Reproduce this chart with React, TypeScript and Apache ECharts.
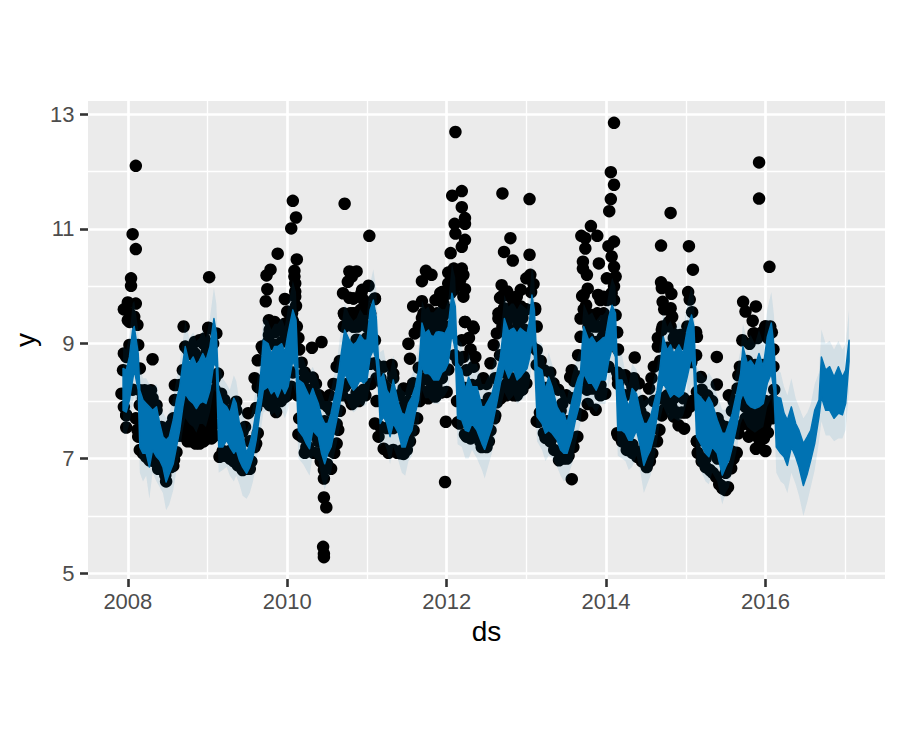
import React, { useEffect, useRef } from "react";
import * as echarts from "echarts";

const majorYears = [2008, 2010, 2012, 2014, 2016];
const minorYears = [2009, 2011, 2013, 2015, 2017];
const majorValues = [5, 7, 9, 11, 13];
const minorValues = [6, 8, 10, 12];

// [year, weekly-top, weekly-bottom, interval-upper, interval-lower]
const band2008 = [
[2007.94,8.57,7.84,8.95,7.45],[2007.98,8.54,7.81,8.9,7.42],[2008.02,8.77,8.02,9.15,7.6],[2008.06,9.24,8.37,9.7,7.95],[2008.08,9.30,8.54,9.75,8.1],[2008.13,8.83,8.19,9.25,7.8],[2008.15,8.19,7.20,8.6,6.75],[2008.19,8.02,7.09,8.4,6.6],[2008.23,7.96,7.09,8.4,6.7],[2008.27,7.90,6.85,8.3,6.3],[2008.31,7.84,7.15,8.25,6.75],[2008.36,7.90,7.03,8.3,6.6],[2008.40,7.61,6.97,8.0,6.5],[2008.44,7.38,6.85,7.8,6.4],[2008.48,7.32,6.59,7.7,6.1],[2008.52,7.38,6.74,7.8,6.2],[2008.57,7.67,6.91,8.05,6.45],[2008.61,8.02,7.20,8.4,6.8],[2008.65,8.25,7.49,8.65,7.1],[2008.69,8.66,7.90,9.05,7.5],[2008.72,8.95,8.13,9.4,7.7],[2008.77,8.66,8.02,9.1,7.6],[2008.82,8.77,7.96,9.2,7.55],[2008.86,8.63,7.87,9.05,7.45],[2008.90,8.71,7.96,9.1,7.6],[2008.94,8.83,7.99,9.25,7.6],[2008.98,8.71,7.96,9.1,7.55],
];
const band2009 = [
[2009.03,8.95,8.19,9.45,7.8],[2009.08,9.44,8.66,9.98,8.2],[2009.11,9.18,8.60,9.7,8.15],[2009.14,8.19,7.20,8.7,6.75],[2009.19,7.96,7.20,8.4,6.8],[2009.24,7.90,7.32,8.3,6.85],[2009.28,7.79,7.20,8.2,6.7],[2009.33,8.05,7.09,8.45,6.6],[2009.36,7.96,7.15,8.35,6.7],[2009.40,7.61,6.97,8.0,6.55],[2009.44,7.44,6.85,7.85,6.35],[2009.49,7.09,6.74,7.5,6.3],[2009.53,7.26,6.85,7.65,6.4],[2009.57,7.49,7.03,7.9,6.6],[2009.61,7.84,7.32,8.25,6.9],[2009.65,8.19,7.73,8.6,7.3],[2009.70,9.06,8.19,9.45,7.8],[2009.76,9.00,8.25,9.4,7.85],[2009.80,8.83,8.13,9.25,7.75],[2009.84,8.95,8.19,9.35,7.8],[2009.88,8.95,8.07,9.35,7.7],[2009.93,9.00,8.25,9.45,7.85],[2009.97,8.86,8.13,9.3,7.7],
];
const band2010 = [
[2010.01,9.18,8.25,9.65,7.85],[2010.07,9.59,8.71,10.1,8.3],[2010.11,9.41,8.54,9.9,8.1],[2010.14,8.37,7.49,8.8,7.0],[2010.20,8.31,7.38,8.75,6.9],[2010.24,8.19,7.26,8.6,6.8],[2010.28,8.07,7.17,8.5,6.7],[2010.32,8.22,7.49,8.6,7.05],[2010.35,8.1,7.44,8.5,7.0],[2010.39,7.96,7.38,8.35,6.95],[2010.43,7.73,7.09,8.15,6.65],[2010.47,7.61,6.91,8.0,6.45],[2010.51,7.61,7.09,8.0,6.65],[2010.55,7.79,7.20,8.2,6.75],[2010.58,8.0,7.4,8.4,7.0],[2010.62,8.25,7.67,8.65,7.25],[2010.66,8.66,7.96,9.1,7.55],[2010.69,8.95,8.2,9.4,7.8],[2010.72,9.24,8.48,9.7,8.05],[2010.75,9.15,8.4,9.6,8.0],[2010.78,9.06,8.31,9.5,7.9],[2010.83,8.98,8.19,9.4,7.8],[2010.87,9.03,8.25,9.45,7.85],[2010.915,9.15,8.37,9.6,7.95],[2010.96,9.06,8.31,9.5,7.9],
];
const band2011 = [
[2011.00,9.06,8.37,9.5,7.95],[2011.04,9.59,8.77,10.05,8.3],[2011.08,9.76,8.89,10.3,8.45],[2011.116,9.47,8.71,9.95,8.3],[2011.145,8.71,8.25,9.2,7.8],[2011.166,8.37,7.61,8.85,7.2],[2011.208,8.48,7.73,8.9,7.3],[2011.25,8.19,7.61,8.6,7.15],[2011.29,8.10,7.38,8.5,6.9],[2011.33,8.37,7.61,8.8,7.2],[2011.396,7.96,7.44,8.35,6.95],[2011.438,7.79,7.20,8.2,6.75],[2011.48,7.76,7.20,8.15,6.7],[2011.52,7.96,7.38,8.35,6.95],[2011.564,8.07,7.49,8.45,7.05],[2011.606,8.25,7.79,8.65,7.35],[2011.648,8.54,8.02,8.95,7.6],[2011.67,8.95,8.3,9.35,7.9],[2011.69,9.36,8.60,9.75,8.2],[2011.73,9.18,8.48,9.6,8.05],[2011.773,9.24,8.48,9.65,8.05],[2011.80,9.15,8.45,9.55,8.0],[2011.836,9.12,8.37,9.55,7.95],[2011.87,9.2,8.37,9.6,7.95],[2011.90,9.21,8.37,9.65,7.95],[2011.94,9.2,8.5,9.6,8.05],[2011.98,9.18,8.54,9.6,8.1],
];
const band2012 = [
[2012.02,9.30,8.66,9.75,8.2],[2012.066,9.88,9.18,10.4,8.7],[2012.108,9.65,8.89,10.15,8.45],[2012.137,8.66,7.70,9.1,7.25],[2012.19,8.54,7.67,9.0,7.2],[2012.234,8.19,7.49,8.6,7.0],[2012.276,8.42,7.47,8.85,7.0],[2012.318,8.25,7.61,8.65,7.15],[2012.38,8.25,7.49,8.65,7.0],[2012.443,7.90,7.26,8.3,6.8],[2012.477,7.90,7.16,8.3,6.65],[2012.527,8.02,7.38,8.45,6.9],[2012.569,8.13,7.55,8.55,7.1],[2012.61,8.37,7.84,8.8,7.4],[2012.64,8.55,8.05,8.95,7.6],[2012.674,8.77,8.31,9.2,7.85],[2012.70,9.1,8.45,9.5,8.0],[2012.724,9.44,8.60,9.85,8.15],[2012.778,9.21,8.40,9.65,8.0],[2012.81,9.25,8.5,9.7,8.05],[2012.841,9.27,8.54,9.7,8.1],[2012.883,9.18,8.37,9.6,7.95],[2012.925,9.27,8.42,9.7,8.0],[2012.967,9.22,8.5,9.65,8.05],
];
const band2013 = [
[2013.009,9.18,8.57,9.6,8.15],[2013.04,9.4,8.75,9.85,8.3],[2013.07,9.85,9.06,10.4,8.65],[2013.10,9.59,8.83,10.1,8.4],[2013.134,8.60,7.73,9.05,7.3],[2013.197,8.54,7.61,9.0,7.15],[2013.239,8.19,7.44,8.6,6.95],[2013.28,8.42,7.49,8.85,7.05],[2013.323,8.25,7.44,8.65,7.0],[2013.386,7.90,7.32,8.3,6.85],[2013.43,7.79,7.15,8.2,6.7],[2013.47,7.79,7.09,8.2,6.6],[2013.511,7.61,7.09,8.05,6.65],[2013.574,8.02,7.38,8.45,6.9],[2013.616,8.25,7.67,8.65,7.25],[2013.65,8.4,7.85,8.8,7.45],[2013.679,8.48,8.02,8.9,7.6],[2013.70,8.95,8.3,9.35,7.9],[2013.72,9.30,8.48,9.7,8.05],[2013.783,9.06,8.31,9.5,7.9],[2013.825,9.12,8.31,9.55,7.9],[2013.876,9.00,8.19,9.4,7.8],[2013.93,9.06,8.37,9.5,7.95],[2013.96,9.1,8.37,9.5,7.95],[2013.993,9.12,8.37,9.55,7.95],
];
const band2014 = [
[2014.035,9.47,8.71,9.9,8.3],[2014.076,9.67,8.92,10.15,8.45],[2014.118,9.53,8.77,10.0,8.35],[2014.147,8.37,7.49,8.85,7.05],[2014.2,8.37,7.49,8.8,7.0],[2014.243,8.07,7.44,8.5,6.95],[2014.285,7.90,7.32,8.3,6.8],[2014.327,8.22,7.32,8.65,6.85],[2014.382,8.13,7.49,8.55,7.05],[2014.432,7.79,7.20,8.2,6.75],[2014.474,7.61,6.88,8.0,6.4],[2014.516,7.61,7.03,8.05,6.55],[2014.558,7.73,7.15,8.15,6.7],[2014.6,7.96,7.38,8.4,6.95],[2014.641,8.19,7.73,8.6,7.3],[2014.683,8.66,8.13,9.1,7.7],[2014.717,9.12,8.31,9.55,7.9],[2014.767,8.89,8.19,9.3,7.75],[2014.809,8.98,8.07,9.4,7.65],[2014.851,8.83,8.13,9.25,7.7],[2014.914,8.98,8.07,9.4,7.65],[2014.968,8.83,8.13,9.25,7.75],
];
const band2015 = [
[2015.018,9.24,8.42,9.7,8.0],[2015.073,9.50,8.77,10.0,8.3],[2015.102,9.30,8.54,9.8,8.1],[2015.136,8.13,7.38,8.6,6.95],[2015.186,8.07,7.26,8.5,6.8],[2015.249,7.96,7.09,8.4,6.6],[2015.29,8.07,7.03,8.5,6.55],[2015.332,7.96,7.20,8.4,6.75],[2015.395,7.67,7.09,8.1,6.6],[2015.458,7.44,6.71,7.85,6.2],[2015.5,7.44,6.85,7.85,6.4],[2015.542,7.61,6.97,8.0,6.5],[2015.584,7.79,7.20,8.2,6.8],[2015.647,8.19,7.61,8.6,7.2],[2015.688,8.48,8.02,8.9,7.6],[2015.718,8.95,8.13,9.35,7.7],[2015.772,8.66,7.96,9.05,7.55],[2015.814,8.71,7.90,9.15,7.5],[2015.868,8.60,7.87,9.0,7.45],[2015.919,8.83,7.90,9.25,7.5],[2015.973,8.60,7.96,9.0,7.55],
];
const band2016 = [
[2016.023,9.12,8.31,9.6,7.9],[2016.074,9.36,8.48,9.9,8.05],[2016.107,8.95,8.19,9.5,7.75],[2016.136,8.07,7.20,8.55,6.75],[2016.191,8.05,7.09,8.5,6.6],[2016.233,7.79,7.03,8.25,6.55],[2016.275,7.67,6.88,8.1,6.4],[2016.325,7.90,7.20,8.4,6.75],[2016.379,7.61,7.03,8.05,6.55],[2016.421,7.49,6.85,7.9,6.35],[2016.476,7.26,6.53,7.7,6.0],[2016.526,7.38,6.74,7.8,6.25],[2016.568,7.49,6.97,7.95,6.5],[2016.618,7.84,7.26,8.3,6.8],[2016.672,8.02,7.73,8.5,7.3],[2016.702,8.77,8.07,9.25,7.65],[2016.756,8.54,7.84,9.0,7.4],[2016.806,8.60,7.84,9.05,7.4],[2016.861,8.42,7.70,8.9,7.3],[2016.915,8.60,7.79,9.05,7.35],[2016.966,8.42,7.76,8.9,7.35],[2017.007,8.54,7.96,9.0,7.5],[2017.049,9.06,8.69,9.6,8.2],
];

const pointsOutliers = [
[2008.10,12.10],[2008.06,10.91],[2008.10,10.65],[2008.04,10.14],[2008.04,10.01],[2008.0,9.72],[2008.10,9.70],[2007.95,9.60],[2008.02,9.53],[2008.0,9.41],[2008.08,9.47],[2008.12,9.33],[2008.02,9.38],[2008.70,9.30],[2009.02,10.16],[2009.01,9.28],[2009.11,9.18],
[2010.07,11.49],[2010.11,11.20],[2010.05,11.01],[2009.88,10.57],[2010.12,10.47],[2009.79,10.29],[2009.74,10.19],[2010.09,10.27],[2010.09,10.17],[2010.10,10.05],[2010.10,9.91],[2009.75,9.95],[2009.73,9.74],[2009.97,9.78],[2010.10,9.82],[2010.11,9.66],[2010.0,9.56],[2009.77,9.41],[2009.84,9.38],[2010.06,9.53],[2010.06,9.38],[2009.97,9.35],[2009.93,9.30],[2009.78,9.24],
[2010.72,11.44],[2010.78,10.26],[2010.76,10.08],[2010.70,9.88],[2010.78,9.80],[2010.71,9.53],[2010.79,9.53],[2010.83,9.53],[2010.71,9.30],
[2011.03,10.88],[2010.87,10.26],[2010.81,10.17],[2011.02,10.01],[2010.94,9.94],[2011.10,9.78],[2010.83,9.79],[2010.96,9.76],[2010.98,9.65],[2010.87,9.53],[2011.04,9.53],
[2011.74,10.27],[2011.81,10.20],[2011.69,10.09],[2011.58,9.65],[2011.69,9.74],[2011.77,9.59],[2011.69,9.3],[2011.75,9.41],[2011.92,9.88],[2011.86,9.76],[2011.96,9.7],[2011.88,9.53],[2011.94,9.47],[2011.84,9.3],[2012.0,9.3],
[2012.11,12.69],[2012.19,11.66],[2012.07,11.58],[2012.19,11.38],[2012.23,11.19],[2012.23,11.09],[2012.10,11.09],[2012.11,10.92],[2012.23,10.81],[2012.19,10.69],[2012.05,10.58],[2012.09,10.31],[2012.19,10.31],[2012.02,10.24],[2012.21,10.2],[2012.17,10.11],[2012.09,10.17],[2012.02,10.05],[2012.23,9.95],[2012.13,10.05],[2012.05,9.88],[2012.21,9.82],[2011.96,9.82],[2011.94,9.9],[2012.09,9.94],[2012.23,9.38],[2012.33,9.3],
[2012.70,11.62],[2013.04,11.52],[2012.80,10.84],[2012.72,10.60],[2012.83,10.45],[2013.04,10.55],[2013.05,10.20],[2013.0,10.14],[2013.09,10.04],[2012.69,10.02],[2012.76,9.91],[2012.93,9.94],[2012.88,9.82],[2012.69,9.82],[2012.80,9.82],[2012.72,9.62],[2012.84,9.71],[2012.97,9.59],[2012.93,9.65],[2012.80,9.53],[2012.65,9.44],[2013.11,9.62],[2012.88,9.47],[2012.76,9.41],
[2013.81,11.05],[2013.69,10.88],[2013.74,10.84],[2013.89,10.88],[2013.74,10.66],[2013.91,10.40],[2013.71,10.43],[2013.71,10.31],[2013.76,10.20],[2013.77,9.96],[2013.70,9.83],[2013.75,9.67],[2013.97,9.82],[2014.01,10.14],[2013.93,9.76],[2014.10,9.76],
[2014.10,12.85],[2014.06,11.99],[2014.10,11.77],[2014.06,11.52],[2014.04,11.31],[2014.10,10.78],[2014.03,10.70],[2014.07,10.52],[2014.10,10.34],[2014.12,10.17],[2014.10,10.0],[2014.07,9.88],[2014.01,9.76],[2013.89,9.53],[2013.80,9.41],[2013.97,9.53],[2013.85,9.3],
[2014.81,11.28],[2014.69,10.71],[2015.04,10.70],[2015.09,10.29],[2014.69,10.07],[2014.77,9.98],[2014.82,9.87],[2014.70,9.97],[2015.03,9.90],[2015.05,9.77],[2014.71,9.73],[2014.81,9.62],[2014.73,9.60],[2014.83,9.47],[2014.79,9.38],[2014.70,9.24],[2014.81,9.3],
[2015.92,12.16],[2015.92,11.53],[2016.05,10.34],[2015.72,9.73],[2015.88,9.65],[2015.75,9.56],[2015.84,9.40],[2016.0,9.30],[2016.06,9.30],[2015.85,9.18],
[2011.99,7.64],[2011.98,6.59],[2013.57,6.64],
[2008.31,8.73],[2007.98,7.54],[2010.43,9.03],[2010.31,8.93],[2010.32,8.41],[2010.46,6.65],[2010.46,6.32],[2010.49,6.15],[2010.45,5.46],[2010.46,5.28],[2010.46,5.34],
[2014.36,8.76],[2015.39,8.77],[2015.39,8.29],[2015.54,8.10],
];

const pointsHull2008 = [
[2007.95,8.83],[2007.94,8.54],[2007.92,8.13],[2007.95,7.90],[2007.98,7.76],[2008.02,8.98],[2007.98,8.77],[2008.13,8.98],[2008.15,8.57],[2008.15,8.19],[2008.15,7.93],[2008.13,7.38],[2008.19,7.09],[2008.27,6.97],[2008.38,6.82],[2008.47,6.71],[2008.54,6.85],[2008.61,7.11],[2008.29,8.19],[2008.31,8.05],[2008.21,8.19],[2008.36,7.84],[2008.42,7.55],[2008.48,7.5],[2008.54,7.58],[2008.59,8.28],[2008.59,8.02],[2008.69,8.54],[2008.84,8.83],[2008.84,9.03],[2008.90,9.06],[2008.96,9.09],[2009.01,9.27],[2008.99,8.86],[2009.07,9.0],[2009.13,8.48],[2008.23,7.15],[2008.33,6.95],[2008.43,6.85],[2008.58,6.98],[2008.63,7.4],[2008.1,7.7],[2008.12,7.5],[2008.75,8.9],[2008.95,9.0],
];
const pointsMass2009 = [
[2008.69,7.4],[2008.69,7.6],[2008.69,7.8],[2008.75,7.3],[2008.75,7.5],[2008.75,7.7],[2008.75,7.9],[2008.8,7.3],[2008.8,7.5],[2008.8,7.7],[2008.8,7.9],[2008.85,7.26],[2008.85,7.45],[2008.85,7.65],[2008.85,7.85],[2008.9,7.26],[2008.9,7.45],[2008.9,7.65],[2008.9,7.85],[2008.95,7.3],[2008.95,7.5],[2008.95,7.7],[2008.95,7.9],[2009.0,7.35],[2009.0,7.55],[2009.0,7.75],[2009.0,7.95],[2009.05,7.35],[2009.05,7.55],[2009.05,7.75],[2009.05,7.95],[2009.05,8.15],[2009.09,7.4],[2009.09,7.6],[2009.09,7.8],[2009.09,8.0],[2009.09,8.2],[2009.09,8.4],
[2009.17,8.13],[2009.21,8.02],[2009.34,7.94],[2009.36,7.84],[2009.51,7.79],[2009.47,7.55],[2009.59,8.40],[2009.63,8.71],[2009.63,8.25],[2009.68,8.95],[2009.15,7.03],[2009.28,7.0],[2009.38,6.88],[2009.50,6.82],[2009.59,7.2],[2009.63,7.44],[2009.21,7.05],[2009.33,6.95],[2009.44,6.82],[2009.55,6.95],
[2009.86,7.81],[2009.78,7.93],[2009.97,8.07],[2010.05,8.25],[2009.70,8.9],[2009.76,8.0],[2009.72,8.2],[2009.82,7.95],[2009.92,8.0],[2010.0,8.1],[2009.77,9.15],[2009.84,9.2],[2009.97,9.2],[2010.0,9.2],[2010.07,9.4],[2010.12,9.3],[2010.14,9.1],[2010.15,8.9],[2009.8,9.3],[2009.9,9.25],[2010.03,9.4],[2009.72,8.0],
];
const pointsHull2010 = [
[2010.18,8.67],[2010.45,7.96],[2010.29,8.2],[2010.18,7.38],[2010.26,7.2],[2010.39,7.09],[2010.46,6.8],[2010.55,6.82],[2010.62,7.26],[2010.66,7.83],[2010.53,8.1],[2010.51,7.9],[2010.62,8.6],[2010.58,8.3],[2010.72,9.3],[2010.81,9.4],[2010.72,9.5],[2010.83,9.3],[2010.72,8.25],[2010.81,7.95],[2010.15,7.7],[2010.22,7.1],[2010.33,7.1],[2010.42,6.95],[2010.5,6.9],[2010.59,7.1],[2010.64,7.5],[2010.13,8.1],[2010.22,8.5],[2010.36,8.3],[2010.4,8.1],
[2010.83,9.79],[2010.93,9.88],[2011.10,9.79],[2010.92,9.59],[2010.83,9.53],[2010.83,9.3],[2010.79,8.02],[2010.83,8.02],[2010.98,8.1],[2011.10,9.06],[2011.10,8.66],[2011.15,8.6],[2010.9,8.0],[2011.05,8.3],[2010.88,9.3],[2010.94,9.4],[2011.0,9.3],[2010.9,9.5],
];
const pointsHull2011 = [
[2011.21,8.6],[2011.31,8.63],[2011.33,8.48],[2011.46,8.22],[2011.52,8.19],[2011.58,8.31],[2011.54,8.74],[2011.52,9.0],[2011.69,9.45],[2011.71,9.53],[2011.6,9.18],[2011.65,9.3],[2011.12,8.0],
[2011.10,7.61],[2011.145,7.38],[2011.21,7.17],[2011.33,7.15],[2011.42,7.09],[2011.50,7.15],[2011.585,7.49],[2011.63,7.7],[2011.48,7.96],[2011.77,8.05],[2011.86,8.08],[2012.0,8.16],[2011.73,8.4],[2011.27,7.1],[2011.38,7.1],[2011.46,7.08],[2011.54,7.3],[2011.66,8.0],[2011.7,8.15],[2011.8,8.2],[2011.93,8.15],[2011.2,8.3],[2011.4,8.1],[2011.8,9.4],[2011.9,9.4],[2011.96,9.5],[2012.0,9.6],[2011.85,9.5],[2011.75,8.15],[2011.85,8.15],
];
const pointsHull2012 = [
[2012.23,9.38],[2012.34,9.27],[2012.19,9.06],[2012.36,8.77],[2012.34,8.6],[2012.21,8.77],[2012.25,8.54],[2012.46,8.40],[2012.63,9.18],[2012.59,8.98],[2012.55,8.66],[2012.65,9.53],[2012.67,9.8],[2012.3,8.9],[2012.28,9.1],[2012.42,8.3],[2012.5,8.3],
[2012.16,7.61],[2012.25,7.38],[2012.38,7.38],[2012.46,7.26],[2012.55,7.49],[2012.63,7.98],[2012.72,8.25],[2012.84,8.1],[2012.88,8.1],[2013.0,8.31],[2012.88,8.4],[2012.76,8.31],[2012.3,7.35],[2012.42,7.3],[2012.5,7.2],[2012.6,7.7],[2012.68,8.05],[2012.8,8.15],[2012.95,8.2],[2012.13,8.0],
[2012.7,9.3],[2012.78,9.5],[2012.9,9.35],[2013.0,9.6],[2013.06,9.9],[2013.11,9.59],[2013.13,8.89],[2013.13,9.3],[2012.85,9.5],[2012.95,9.45],[2012.75,9.3],[2012.9,9.6],[2012.75,8.1],[2012.9,8.15],
];
const pointsHull2013 = [
[2013.22,8.54],[2013.34,8.31],[2013.45,7.95],[2013.57,8.54],[2013.55,8.42],[2013.68,9.12],[2013.68,9.44],[2013.72,9.85],[2013.9,9.85],[2013.3,8.5],[2013.4,8.2],[2013.5,8.1],[2013.6,8.35],[2013.65,8.8],[2013.18,8.7],
[2013.15,7.64],[2013.22,7.44],[2013.3,7.3],[2013.41,6.97],[2013.53,7.05],[2013.64,7.38],[2013.7,7.75],[2013.87,7.85],[2013.99,8.13],[2013.76,8.2],[2013.8,8.35],[2013.93,8.1],[2013.35,7.15],[2013.46,7.0],[2013.59,7.2],[2013.77,7.95],[2013.17,7.8],
[2013.72,9.6],[2013.82,9.5],[2013.9,9.3],[2014.0,9.4],[2014.12,9.5],[2014.14,9.2],[2014.15,8.9],[2014.14,8.5],[2013.78,9.3],[2013.85,9.45],[2013.95,9.3],
];
const pointsHull2014 = [
[2014.24,8.45],[2014.35,8.40],[2014.41,8.31],[2014.54,8.22],[2014.60,8.60],[2014.43,7.95],[2014.49,7.72],[2014.65,8.95],[2014.65,9.1],[2014.19,8.45],[2014.15,8.3],[2014.3,8.35],[2014.46,8.0],[2014.57,8.4],
[2014.14,7.44],[2014.26,7.15],[2014.39,7.03],[2014.51,6.85],[2014.58,7.09],[2014.64,7.3],[2014.70,7.75],[2014.77,8.0],[2014.89,7.8],[2014.85,7.73],[2014.91,7.58],[2014.98,7.52],[2015.0,7.8],[2015.05,7.9],[2014.2,7.3],[2014.33,7.1],[2014.45,6.95],[2014.55,6.95],[2014.67,7.5],[2014.73,7.85],[2014.82,7.9],[2014.95,7.8],[2015.08,8.0],
[2014.71,9.3],[2014.85,9.1],[2014.87,9.15],[2014.93,9.15],[2014.98,9.0],[2015.02,9.3],[2015.08,9.55],[2015.13,9.2],[2015.14,9.12],[2015.13,8.8],
];
const pointsHull2015 = [
[2015.19,8.42],[2015.31,8.0],[2015.39,7.67],[2015.48,7.47],[2015.2,8.2],[2015.27,8.1],[2015.43,7.6],[2015.5,7.55],[2015.6,8.0],[2015.66,8.45],[2015.68,8.6],
[2015.15,7.1],[2015.2,6.95],[2015.3,6.8],[2015.38,6.68],[2015.42,6.55],[2015.46,6.48],[2015.5,6.45],[2015.44,6.53],[2015.53,6.5],[2015.57,6.83],[2015.64,7.1],[2015.66,7.44],[2015.72,7.6],[2015.25,6.85],[2015.34,6.75],[2015.6,7.0],[2015.14,7.3],
[2015.71,9.06],[2015.86,9.18],[2016.0,9.30],[2015.8,9.0],[2015.9,9.1],[2015.96,9.2],[2016.03,9.1],[2016.08,9.2],[2016.1,8.9],[2016.1,8.6],[2016.11,8.2],[2016.1,8.0],
];
const pointsMass2016 = [
[2015.88,7.17],[2016.0,7.13],[2015.79,7.38],[2015.98,7.35],[2016.0,7.6],[2016.06,7.81],[2015.75,7.7],[2015.75,7.9],[2015.82,7.55],[2015.82,7.75],[2015.82,7.9],[2015.88,7.4],[2015.88,7.6],[2015.88,7.8],[2015.93,7.3],[2015.93,7.5],[2015.93,7.7],[2015.93,7.9],[2015.98,7.8],[2016.03,7.45],[2016.03,7.7],[2016.03,7.95],[2016.08,7.7],[2016.08,8.0],[2015.78,8.1],[2015.86,8.0],[2016.0,8.0],
];
const pointsLowerRim = [
[2007.98,7.75],[2008.06,8.2],[2008.15,7.15],[2008.23,7.03],[2008.31,7.08],[2008.40,6.9],[2008.48,6.6],[2008.57,6.87],[2008.65,7.4],[2008.72,8.0],
[2009.19,7.13],[2009.28,7.13],[2009.36,7.08],[2009.44,6.8],[2009.53,6.82],[2009.61,7.26],[2009.70,8.1],[2009.76,8.15],[2009.84,8.1],[2009.93,8.15],[2010.01,8.15],[2010.07,8.5],[2010.14,7.42],[2010.24,7.2],[2010.32,7.42],[2010.39,7.3],[2010.47,6.85],[2010.55,7.13],[2010.62,7.6],[2010.69,8.1],[2010.75,8.3],[2010.87,8.15],[2010.96,8.2],[2011.04,8.65],[2011.12,8.4],[2011.17,7.55],[2011.25,7.53],[2011.33,7.53],[2011.44,7.14],[2011.52,7.3],[2011.606,7.7],[2011.67,8.2],[2011.73,8.38],[2011.80,8.35],[2011.87,8.28],[2011.94,8.4],[2012.02,8.55],[2012.1,8.8],[2012.14,7.63],[2012.23,7.42],[2012.32,7.53],[2012.44,7.2],[2012.53,7.3],[2012.61,7.75],[2012.67,8.22],[2012.72,8.5],[2012.81,8.4],[2012.88,8.28],[2012.97,8.42],[2013.07,8.95],[2013.13,7.65],[2013.24,7.36],[2013.32,7.36],[2013.43,7.08],[2013.51,7.0],[2013.57,7.3],[2013.65,7.78],[2013.72,8.38],[2013.83,8.22],[2013.93,8.28],[2014.03,8.6],[2014.15,7.4],[2014.24,7.36],[2014.33,7.24],[2014.43,7.12],[2014.52,6.95],[2014.6,7.3],[2014.68,8.05],[2014.77,8.1],[2014.85,8.05],[2014.97,8.05],[2015.07,8.68],[2015.14,7.3],[2015.25,7.0],[2015.33,7.12],[2015.4,7.0],[2015.5,6.75],[2015.58,7.12],[2015.65,7.52],[2015.72,8.0],
];
const pointsUpperRim = [
[2008.02,8.8],[2008.19,8.05],[2008.27,7.93],[2008.36,7.93],[2008.44,7.42],[2008.52,7.42],[2008.57,7.7],[2008.65,8.28],[2008.72,8.95],[2008.82,8.8],[2008.90,8.75],[2009.03,8.98],[2009.19,7.99],[2009.28,7.83],[2009.36,7.99],[2009.44,7.47],[2009.53,7.3],[2009.61,7.88],[2009.65,8.23],[2009.76,9.03],[2009.84,8.98],[2009.93,9.03],[2010.01,9.2],[2010.2,8.35],[2010.28,8.1],[2010.39,8.0],[2010.47,7.65],[2010.55,7.83],[2010.62,8.28],[2010.66,8.7],[2010.87,9.07],[2011.0,9.1],[2011.17,8.4],[2011.25,8.22],[2011.33,8.4],[2011.44,7.82],[2011.52,8.0],[2011.606,8.28],[2011.65,8.58],[2011.73,9.2],[2011.84,9.15],[2011.94,9.25],[2012.14,8.7],[2012.23,8.23],[2012.32,8.28],[2012.44,7.93],[2012.53,8.05],[2012.61,8.4],[2012.67,8.8],[2012.78,9.25],[2012.88,9.2],[2012.97,9.25],[2013.13,8.63],[2013.24,8.23],[2013.32,8.28],[2013.43,7.83],[2013.51,7.65],[2013.57,8.05],[2013.65,8.43],[2013.78,9.1],[2013.88,9.03],[2013.96,9.12],[2014.15,8.4],[2014.24,8.1],[2014.33,8.25],[2014.43,7.82],[2014.52,7.65],[2014.6,8.0],[2014.68,8.7],[2014.77,8.93],[2014.9,9.0],[2015.14,8.16],[2015.25,8.0],[2015.33,8.0],[2015.4,7.7],[2015.5,7.48],[2015.58,7.83],[2015.65,8.22],[2015.77,8.7],[2015.87,8.63],[2015.97,8.63],
];

const ALL_BANDS = [...band2008, ...band2009, ...band2010, ...band2011, ...band2012, ...band2013, ...band2014, ...band2015, ...band2016];
const ALL_POINTS = [...pointsOutliers, ...pointsHull2008, ...pointsMass2009, ...pointsHull2010, ...pointsHull2011, ...pointsHull2012, ...pointsHull2013, ...pointsHull2014, ...pointsHull2015, ...pointsMass2016, ...pointsLowerRim, ...pointsUpperRim];

const FONT = "Liberation Sans";

export default function App() {
  const ref = useRef<HTMLDivElement>(null);
  useEffect(() => {
    const chart = echarts.init(ref.current!, undefined, { renderer: "svg" });
    const xBase = { type: "value", min: 2007.5, max: 2017.5, axisLine: { show: false } };
    const yBase = { type: "value", min: 4.9, max: 13.23, axisLine: { show: false } };
    const tickStyle = { color: "#333", width: 2.6 };
    const labelStyle = { color: "#4D4D4D", fontFamily: FONT, fontSize: 22, formatter: (v: number) => String(v) };
    const nameStyle = { fontFamily: FONT, fontSize: 28, color: "#000" };
    chart.setOption({
      animation: false,
      backgroundColor: "#fff",
      grid: { left: 88, top: 101, width: 797, height: 478, show: true, backgroundColor: "#EBEBEB", borderWidth: 0, outerBoundsMode: "none" },
      xAxis: [
        {
          ...xBase, name: "ds", nameLocation: "center", nameGap: 38, nameTextStyle: nameStyle,
          axisTick: { show: true, length: 8, customValues: majorYears, lineStyle: tickStyle },
          axisLabel: { show: true, customValues: majorYears, margin: 11, ...labelStyle },
          splitLine: { show: true, lineStyle: { color: "#fff", width: 2.7 } },
        },
        {
          ...xBase,
          axisTick: { show: false, customValues: minorYears },
          axisLabel: { show: false, customValues: minorYears },
          splitLine: { show: true, lineStyle: { color: "#fff", width: 1.35 } },
        },
      ],
      yAxis: [
        {
          ...yBase, name: "y", nameLocation: "center", nameGap: 49, nameTextStyle: nameStyle,
          axisTick: { show: true, length: 8, customValues: majorValues, lineStyle: tickStyle },
          axisLabel: { show: true, customValues: majorValues, margin: 13.5, ...labelStyle },
          splitLine: { show: true, lineStyle: { color: "#fff", width: 2.7 } },
        },
        {
          ...yBase,
          axisTick: { show: false, customValues: minorValues },
          axisLabel: { show: false, customValues: minorValues },
          splitLine: { show: true, lineStyle: { color: "#fff", width: 1.35 } },
        },
      ],
      series: [
        { type: "scatter", data: ALL_POINTS, symbolSize: 12.5, itemStyle: { color: "#000", opacity: 1 }, silent: true, z: 2 },
        {
          type: "custom", z: 3, silent: true,
          data: ALL_BANDS.map((r) => [r[0], r[4], r[3]]),
          encode: { x: 0, y: [1, 2] },
          renderItem: (p: any, api: any) => {
            if (p.dataIndex !== 0) return null;
            const up = ALL_BANDS.map((r) => api.coord([r[0], r[3]]));
            const lo = ALL_BANDS.map((r) => api.coord([r[0], r[4]])).reverse();
            return { type: "polygon", shape: { points: [...up, ...lo] }, style: { fill: "#0072B2", opacity: 0.1 } };
          },
        },
        {
          type: "custom", z: 4, silent: true,
          data: ALL_BANDS.map((r) => [r[0], r[2], r[1]]),
          encode: { x: 0, y: [1, 2] },
          renderItem: (p: any, api: any) => {
            if (p.dataIndex !== 0) return null;
            const top = ALL_BANDS.map((r) => api.coord([r[0], r[1]]));
            const bottom = ALL_BANDS.map((r) => api.coord([r[0], r[2]])).reverse();
            return { type: "polygon", shape: { points: [...top, ...bottom] }, style: { fill: "#0072B2", stroke: "#0072B2", lineWidth: 1.5, lineJoin: "round" } };
          },
        },
      ],
    });
    return () => chart.dispose();
  }, []);
  return <div ref={ref} style={{ position: "absolute", left: 0, top: 0, width: 900, height: 750 }} />;
}
